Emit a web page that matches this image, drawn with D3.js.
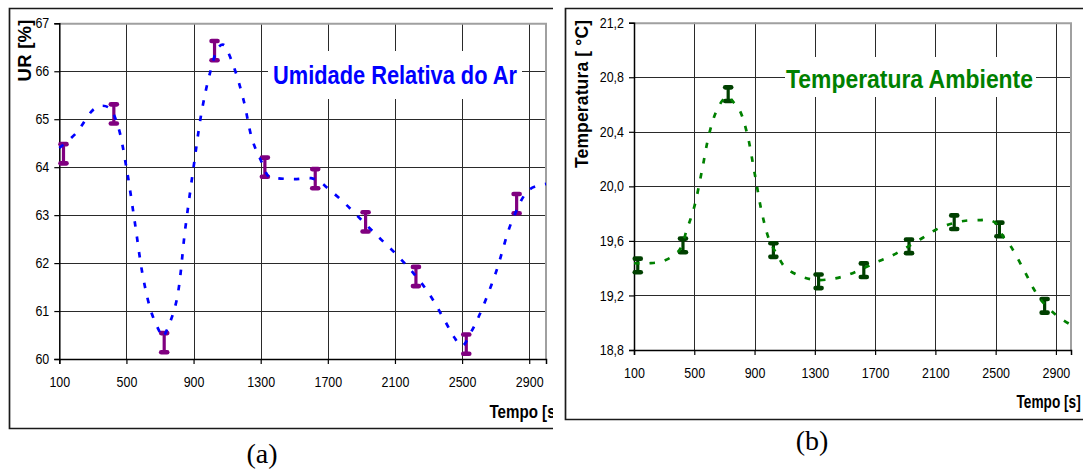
<!DOCTYPE html>
<html>
<head>
<meta charset="utf-8">
<script src="https://cdn.jsdelivr.net/npm/d3@7"></script>
<style>
  html, body { margin: 0; padding: 0; background: #fff; }
  svg { display: block; }
</style>
</head>
<body>
<script>
// Measurement times (s) and readings
const tempo = [125, 425, 725, 1025, 1325, 1625, 1925, 2225, 2525, 2825];
const umidade = [64.28, 65.11, 60.34, 66.43, 64.0, 63.76, 62.86, 61.72, 60.31, 63.24];
const umidadeErro = [0.2, 0.2, 0.2, 0.2, 0.2, 0.2, 0.2, 0.2, 0.2, 0.2];
const temperatura = [19.42, 19.567, 20.676, 19.533, 19.304, 19.385, 19.56, 19.737, 19.684, 19.124];
const temperaturaErro = [0.05, 0.05, 0.05, 0.05, 0.05, 0.05, 0.05, 0.05, 0.05, 0.05];

// Trend curves (dashed)
const tendUrTempo = [100, 200, 300, 350, 400, 450, 500, 550, 600, 650, 700, 715, 750, 800, 850, 900, 950, 1000, 1050, 1080, 1100, 1150, 1200, 1250, 1300, 1350, 1400, 1500, 1600, 1650, 1700, 1800, 1900, 2000, 2100, 2200, 2300, 2400, 2450, 2500, 2550, 2600, 2700, 2800, 2900, 3000];
const tendUr = [64.4, 64.71, 65.19, 65.28, 65.23, 64.85, 63.99, 62.85, 61.69, 60.96, 60.55, 60.45, 60.68, 61.24, 62.7, 64.0, 65.19, 65.99, 66.51, 66.55, 66.44, 65.99, 65.37, 64.57, 64.15, 63.8, 63.77, 63.75, 63.77, 63.7, 63.56, 63.25, 62.9, 62.55, 62.21, 61.83, 61.38, 60.78, 60.47, 60.27, 60.54, 60.89, 61.79, 62.9, 63.53, 63.65];
const tendTempTempo = [100, 200, 300, 400, 450, 500, 550, 600, 650, 700, 730, 750, 800, 850, 900, 950, 1000, 1050, 1100, 1200, 1300, 1400, 1500, 1600, 1700, 1800, 1900, 2000, 2100, 2200, 2300, 2400, 2450, 2500, 2550, 2600, 2700, 2750, 2800, 2900, 3000];
const tendTemp = [19.436, 19.436, 19.455, 19.53, 19.68, 19.85, 20.11, 20.39, 20.56, 20.645, 20.66, 20.63, 20.56, 20.39, 20.1, 19.8, 19.6, 19.5, 19.41, 19.343, 19.314, 19.319, 19.343, 19.387, 19.44, 19.485, 19.546, 19.612, 19.68, 19.724, 19.748, 19.753, 19.755, 19.73, 19.63, 19.56, 19.36, 19.253, 19.167, 19.057, 18.984];

// Axis ticks
const tempoTicks = [100, 500, 900, 1300, 1700, 2100, 2500, 2900];
const urTicks = [60, 61, 62, 63, 64, 65, 66, 67];
const tempTicks = [18.8, 19.2, 19.6, 20.0, 20.4, 20.8, 21.2];

const ptBR = d3.formatLocale({decimal: ",", thousands: ".", grouping: [3], currency: ["R$", ""]});

const SANS = "'Liberation Sans', Arial, sans-serif";
const SERIF = "'Liberation Serif', 'Times New Roman', serif";

const W = 1083, H = 470;
const svg = d3.select("body").append("svg").attr("width", W).attr("height", H)
  .style("font-family", SANS);

svg.append("defs").append("clipPath").attr("id", "clipA")
  .append("rect").attr("x", 0).attr("y", 0).attr("width", 553).attr("height", H);

const NARROW = 0.86;

function panel(cfg) {
  const g = svg.append("g");
  if (cfg.clip) g.attr("clip-path", cfg.clip);
  const x = d3.scaleLinear().domain([100, 3000]).range([cfg.left, cfg.right]);
  const y = d3.scaleLinear().domain(cfg.yDomain).range([cfg.bottom, cfg.top]);

  // grid
  const grid = g.append("g").attr("stroke", "#2a2a2a").attr("stroke-width", 1);
  grid.selectAll("line.h").data(cfg.yTicks.slice(1, -1)).join("line")
    .attr("x1", cfg.left).attr("x2", cfg.right)
    .attr("y1", d => Math.round(y(d)) + 0.5).attr("y2", d => Math.round(y(d)) + 0.5);
  grid.selectAll("line.v").data(tempoTicks.slice(1)).join("line")
    .attr("y1", cfg.top).attr("y2", cfg.bottom)
    .attr("x1", d => Math.round(x(d)) + 0.5).attr("x2", d => Math.round(x(d)) + 0.5);

  // plot area border (top/right)
  g.append("path")
    .attr("d", `M${cfg.left},${cfg.top + 0.5}H${cfg.right}V${cfg.bottom}`)
    .attr("fill", "none").attr("stroke", "#a0a0a0").attr("stroke-width", 2);

  // title box and title
  g.append("rect").attr("x", cfg.tBox[0]).attr("y", cfg.tBox[1])
    .attr("width", cfg.tBox[2] - cfg.tBox[0]).attr("height", cfg.tBox[3] - cfg.tBox[1])
    .attr("fill", "#fff");
  g.append("text").attr("x", cfg.tPos[0]).attr("y", cfg.tPos[1])
    .attr("font-size", 26).attr("font-weight", "bold").attr("fill", cfg.tColor)
    .attr("textLength", cfg.tLen).attr("lengthAdjust", "spacingAndGlyphs")
    .text(cfg.title);

  // axes
  const ax = g.append("g").attr("transform", `translate(0,${cfg.bottom})`)
    .call(d3.axisBottom(x).tickValues(tempoTicks).tickSize(5).tickPadding(13).tickFormat(d3.format("d")));
  const ay = g.append("g").attr("transform", `translate(${cfg.left},0)`)
    .call(d3.axisLeft(y).tickValues(cfg.yTicks).tickSize(5).tickPadding(4).tickFormat(cfg.yFmt));
  [ax, ay].forEach(a => {
    a.attr("font-family", null).attr("font-size", null);
    a.select(".domain").attr("stroke", "#000").attr("stroke-width", 1.5);
    a.selectAll(".tick line").attr("stroke", "#000").attr("stroke-width", 1.2);
    a.selectAll("text").attr("font-size", 14.5).attr("fill", "#000");
  });
  ax.selectAll("text").attr("transform", `scale(${NARROW},1)`);
  ay.selectAll("text").attr("x", -10 / NARROW).attr("transform", `scale(${NARROW},1)`);

  // error bars
  const eb = g.append("g").attr("stroke", cfg.barColor).attr("fill", "none");
  cfg.vals.forEach((v, i) => {
    const cx = x(tempo[i]);
    const y1 = y(v + cfg.errs[i]), y2 = y(v - cfg.errs[i]);
    eb.append("line").attr("x1", cx).attr("x2", cx).attr("y1", y1).attr("y2", y2)
      .attr("stroke-width", 3.2);
    [y1, y2].forEach(yy => eb.append("line")
      .attr("x1", cx - 3).attr("x2", cx + 3).attr("y1", yy).attr("y2", yy)
      .attr("stroke-width", 4.6).attr("stroke-linecap", "round"));
  });

  // trend curve
  const line = d3.line().x(d => x(d[0])).y(d => y(d[1])).curve(d3.curveCatmullRom.alpha(0.5));
  g.append("path").datum(d3.zip(cfg.trendT, cfg.trendV))
    .attr("d", line).attr("fill", "none").attr("stroke", cfg.lineColor)
    .attr("stroke-width", 2.7).attr("stroke-dasharray", "5.5,10");

  // axis titles
  g.append("text").attr("transform", `translate(${cfg.xtPos[0]},${cfg.xtPos[1]}) scale(${cfg.xtScale},1)`)
    .attr("font-size", cfg.xtSize).attr("font-weight", "bold").text("Tempo [s]");
  g.append("text").attr("transform", `translate(${cfg.ytPos[0]},${cfg.ytPos[1]}) rotate(-90)`)
    .attr("text-anchor", "middle").attr("font-size", cfg.ytSize).attr("font-weight", "bold")
    .attr("textLength", cfg.ytLen).attr("lengthAdjust", "spacing")
    .text(cfg.yTitle);

  // outer frame
  g.append("path").attr("d", cfg.frame).attr("fill", "none")
    .attr("stroke", "#1a1a1a").attr("stroke-width", 1.7);
}

panel({
  clip: "url(#clipA)",
  left: 59.3, right: 546, top: 23.3, bottom: 359,
  yDomain: [60, 67], yTicks: urTicks, yFmt: d3.format("d"),
  vals: umidade, errs: umidadeErro, barColor: "#800080", lineColor: "#0000ff",
  trendT: tendUrTempo, trendV: tendUr,
  title: "Umidade Relativa do Ar", tColor: "#0000ff", tPos: [273, 84], tLen: 244,
  tBox: [268, 51, 522, 99],
  xtPos: [489.5, 417.7], xtSize: 18, xtScale: 0.84,
  ytPos: [31, 50.5], ytSize: 18.5, ytLen: 62, yTitle: "UR [%]",
  frame: "M553,8.5H9.5V428.5H553"
});

panel({
  clip: null,
  left: 634, right: 1071, top: 22.7, bottom: 350,
  yDomain: [18.8, 21.2], yTicks: tempTicks, yFmt: ptBR.format(".1f"),
  vals: temperatura, errs: temperaturaErro, barColor: "#004000", lineColor: "#008000",
  trendT: tendTempTempo, trendV: tendTemp,
  title: "Temperatura Ambiente", tColor: "#008000", tPos: [786, 87.5], tLen: 247,
  tBox: [785, 57, 1036, 97],
  xtPos: [1016.5, 408.3], xtSize: 17.5, xtScale: 0.78,
  ytPos: [588, 94], ytSize: 17.5, ytLen: 148, yTitle: "Temperatura [ °C]",
  frame: "M1083,8.5H565.5V419.5H1083"
});

// panel captions
svg.append("text").attr("x", 262).attr("y", 463).attr("text-anchor", "middle")
  .style("font-family", SERIF).attr("font-size", 28).text("(a)");
svg.append("text").attr("x", 812).attr("y", 450).attr("text-anchor", "middle")
  .style("font-family", SERIF).attr("font-size", 28).text("(b)");
</script>
</body>
</html>
